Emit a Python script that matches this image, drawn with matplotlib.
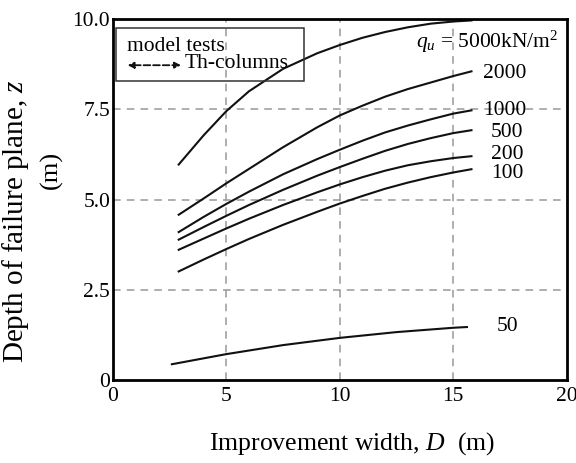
import numpy as np
import matplotlib.pyplot as plt
from matplotlib.patches import Rectangle

plt.rcParams['font.family'] = ['Liberation Serif', 'DejaVu Serif']
plt.rcParams['mathtext.fontset'] = 'custom'
plt.rcParams['mathtext.rm'] = 'Liberation Serif'
plt.rcParams['mathtext.it'] = 'Liberation Serif:italic'

# improvement width D (m) vs depth z (m), per q_u
D = [2.9, 4, 5, 6, 7.5, 9, 10, 11, 12, 13, 14, 15, 15.8]
z_5000 = [5.97, 6.78, 7.45, 8.00, 8.62, 9.05, 9.28, 9.48, 9.64, 9.77, 9.87, 9.93, 9.96]
z_2000 = [4.58, 5.03, 5.45, 5.85, 6.45, 7.00, 7.33, 7.60, 7.85, 8.06, 8.24, 8.42, 8.55]
z_1000 = [4.10, 4.52, 4.88, 5.22, 5.70, 6.12, 6.38, 6.63, 6.86, 7.05, 7.22, 7.38, 7.47]
z_500 = [3.89, 4.24, 4.55, 4.85, 5.27, 5.66, 5.90, 6.13, 6.35, 6.54, 6.70, 6.84, 6.92]
z_200 = [3.61, 3.92, 4.20, 4.47, 4.85, 5.20, 5.42, 5.62, 5.80, 5.95, 6.06, 6.15, 6.20]
z_100 = [3.01, 3.34, 3.63, 3.91, 4.30, 4.66, 4.89, 5.10, 5.30, 5.47, 5.62, 5.75, 5.84]
D_50 = [2.6, 5.0, 7.5, 10.0, 12.5, 15.0, 15.6]
z_50 = [0.44, 0.72, 0.97, 1.17, 1.33, 1.45, 1.47]

labels = ['2000', '1000', '500', '200', '100']
x_ticks = [0, 5, 10, 15, 20]
y_ticks = [0, 2.5, 5.0, 7.5, 10.0]
y_ticklabels = ['0', '2.5', '5.0', '7.5', '10.0']

fig = plt.figure(figsize=(5.76, 4.63), dpi=100)
ax = fig.add_axes([0.196, 0.179, 0.788, 0.780])

for z in [z_5000, z_2000, z_1000, z_500, z_200, z_100]:
    ax.plot(D, z, color='#111111', lw=1.5, solid_joinstyle='round')
ax.plot(D_50, z_50, color='#111111', lw=1.5)

ax.set_xlim(0, 20)
ax.set_ylim(0, 10)
ax.set_xticks(x_ticks)
ax.set_yticks(y_ticks)
ax.set_yticklabels(y_ticklabels)
ax.tick_params(length=0, labelsize=15.5)
ax.tick_params(axis='y', pad=2)
ax.tick_params(axis='x', pad=5)
for s in ax.spines.values():
    s.set_linewidth(2.0)

for v in [5, 10, 15]:
    ax.axvline(v, color='#999999', lw=1.1, ls=(0, (5, 4)), zorder=0)
for v in [2.5, 5.0, 7.5]:
    ax.axhline(v, color='#999999', lw=1.1, ls=(0, (5, 4)), zorder=0)

# curve labels
ax.text(19.65, 9.36, r'$q_u$ = 5000kN/m$^2$', ha='right', va='center', fontsize=15.5)
label_pos = [(16.3, 8.5), (16.3, 7.47), (16.65, 6.87), (16.65, 6.25), (16.65, 5.73)]
for lab, (x, y) in zip(labels, label_pos):
    ax.text(x, y, lab, ha='left', va='center', fontsize=15.5)
ax.text(16.9, 1.49, '50', ha='left', va='center', fontsize=15.5)

# legend box
ax.add_patch(Rectangle((0.15, 8.28), 8.25, 1.47, fill=False, lw=1.1, ec='#333333', zorder=3))
ax.text(0.6, 9.25, 'model tests', ha='left', va='center', fontsize=15.5)
ax.annotate('', xy=(0.65, 8.72), xytext=(3.0, 8.72),
            arrowprops=dict(arrowstyle='<|-|>', ls='--', lw=1.3, color='#111111',
                            mutation_scale=9, shrinkA=0, shrinkB=0))
ax.text(3.15, 8.76, 'Th-columns', ha='left', va='center', fontsize=15.5)

fig.text(0.611, 0.028, r'Improvement width, $D$  (m)', ha='center', va='baseline', fontsize=18.5)
fig.text(0.027, 0.523, 'Depth of failure plane, $z$', rotation=90, ha='center', va='center', fontsize=21)
fig.text(0.089, 0.633, '(m)', rotation=90, ha='center', va='center', fontsize=19)

fig.savefig('out.png', dpi=100)
